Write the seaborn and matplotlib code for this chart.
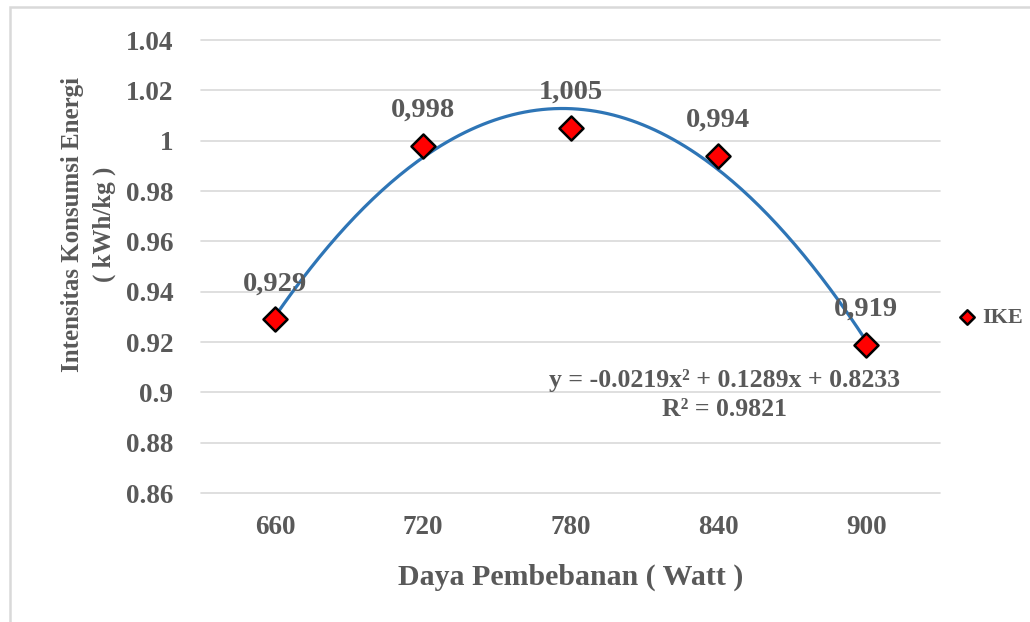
import numpy as np
import pandas as pd
import matplotlib
matplotlib.use("Agg")
import matplotlib.pyplot as plt
import seaborn as sns
from matplotlib.patches import Rectangle

categories = ["660", "720", "780", "840", "900"]
values = [0.929, 0.998, 1.005, 0.994, 0.919]
value_labels = ["0,929", "0,998", "1,005", "0,994", "0,919"]
yticks = [0.86, 0.88, 0.90, 0.92, 0.94, 0.96, 0.98, 1.00, 1.02, 1.04]
ytick_labels = ["0.86", "0.88", "0.9", "0.92", "0.94", "0.96", "0.98", "1", "1.02", "1.04"]
equation = "y = -0.0219x² + 0.1289x + 0.8233"
r2_text = "R² = 0.9821"
series_name = "IKE"

sns.set_theme(style="white")
plt.rcParams['font.family'] = ['Liberation Serif', 'DejaVu Serif']
plt.rcParams['font.weight'] = 'bold'
GRAY = "#595959"

pos = np.arange(1, len(categories) + 1)
df = pd.DataFrame({"pos": pos, "val": values, "series": series_name})

# polynomial trendline (order 2) computed from the data
coef = np.polyfit(pos, values, 2)
xs = np.linspace(pos[0], pos[-1], 200)
trend = pd.DataFrame({"pos": xs, "val": np.polyval(coef, xs)})

fig = plt.figure(figsize=(10.3, 6.22), dpi=100)
ax = fig.add_axes([201/1030, 1-493/622, (940-201)/1030, (493-40)/622])

# outer chart border
fig.patches.append(Rectangle((10/1030, -0.5), 2, 0.5 + 1 - 7/622, transform=fig.transFigure,
                             fill=False, edgecolor="#D9D9D9", linewidth=1.8, zorder=0))

sns.lineplot(data=trend, x="pos", y="val", ax=ax, color="#2E75B6", linewidth=2.3,
             legend=False, zorder=2)
sns.scatterplot(data=df, x="pos", y="val", ax=ax, marker="D", s=150, color="#FF0000",
                edgecolor="black", linewidth=1.8, label=series_name, zorder=3)

ax.set_xlim(0.5, len(categories) + 0.5)
ax.set_ylim(0.86, 1.04)
ax.set_xticks(pos)
ax.set_xticklabels(categories)
ax.set_yticks(yticks)
ax.set_yticklabels(ytick_labels)
ax.tick_params(axis='both', length=0, labelsize=19.5, labelcolor=GRAY)
ax.tick_params(axis='y', pad=20)
ax.tick_params(axis='x', pad=16)
for s in ax.spines.values():
    s.set_visible(False)
ax.yaxis.grid(True, color="#D9D9D9", linewidth=1.2)
ax.xaxis.grid(False)
ax.set_axisbelow(True)
for gl in ax.get_ygridlines():
    gl.set_clip_on(False)

ax.set_xlabel("Daya Pembebanan ( Watt )", fontsize=21.5, color=GRAY, fontweight='bold', labelpad=17)
ax.set_ylabel("Intensitas Konsumsi Energi\n( kWh/kg )", fontsize=18, color=GRAY,
              fontweight='bold', linespacing=1.45)
ax.yaxis.set_label_coords((116-201)/739, (493-224)/453)

for p, v, lab in zip(pos, values, value_labels):
    ax.annotate(lab, (p, v), xytext=(0, 21), textcoords="offset points",
                ha="center", va="baseline", fontsize=20.5, color=GRAY, fontweight='bold')

ax.text((725-201)/739, (493-380)/453, equation, transform=ax.transAxes, ha="center",
        va="center", fontsize=18.5, color=GRAY, fontweight='bold')
ax.text((725-201)/739, (493-410)/453, r2_text, transform=ax.transAxes, ha="center",
        va="center", fontsize=18.5, color=GRAY, fontweight='bold')

leg = ax.legend(loc="center left", bbox_to_anchor=(956/1030, 1-318/622),
                bbox_transform=fig.transFigure, frameon=False, borderpad=0,
                borderaxespad=0, handlelength=1.0, handletextpad=0.2,
                markerscale=0.6, prop={'size': 16, 'weight': 'bold'})
for t in leg.get_texts():
    t.set_color(GRAY)

fig.savefig("out.png", dpi=100)
